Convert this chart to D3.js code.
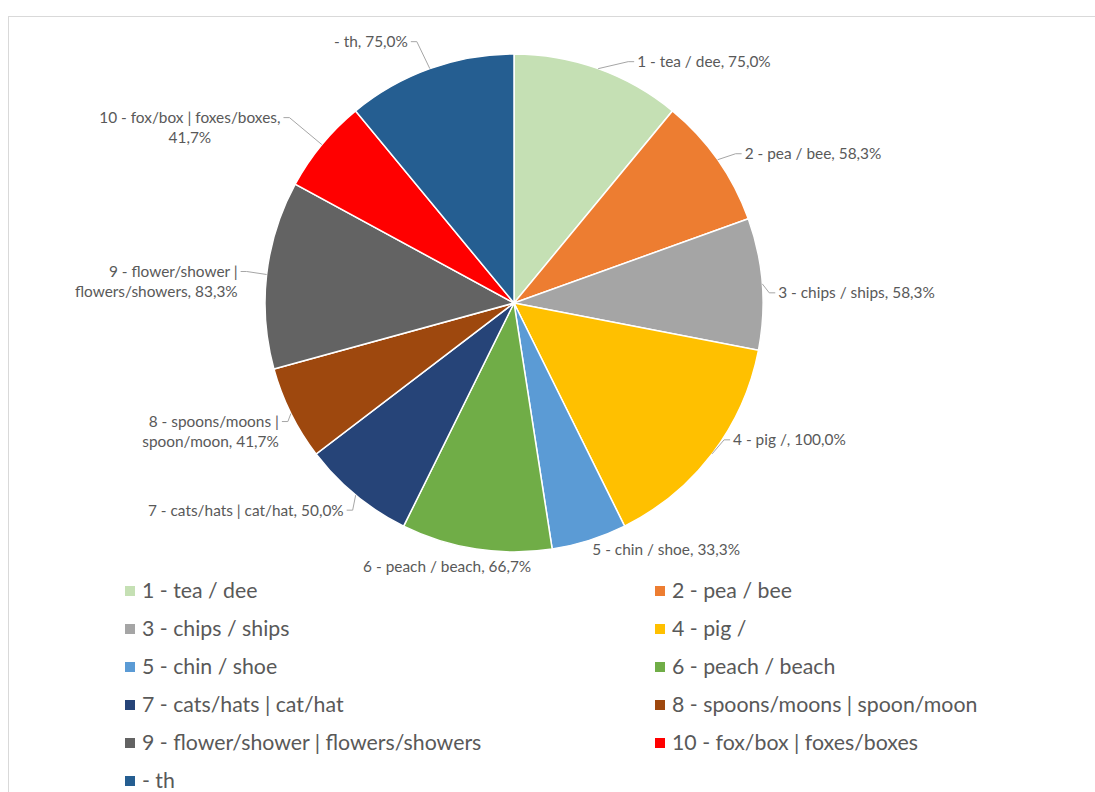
<!DOCTYPE html>
<html>
<head>
<meta charset="utf-8">
<script src="https://cdn.jsdelivr.net/npm/d3@7"></script>
<style>
  body { margin: 0; background: #fff; }
  svg text { font-family: Lato, "Liberation Sans", sans-serif; fill: #595959; }
</style>
</head>
<body>
<svg id="chart" width="1095" height="792"></svg>
<script>
// data
var categories = ["1 - tea / dee", "2 - pea / bee", "3 - chips / ships", "4 - pig /",
    "5 - chin / shoe", "6 - peach / beach", "7 - cats/hats | cat/hat",
    "8 - spoons/moons | spoon/moon", "9 - flower/shower | flowers/showers",
    "10 - fox/box | foxes/boxes", "- th"];
var values = [75.0, 58.3, 58.3, 100.0, 33.3, 66.7, 50.0, 41.7, 83.3, 41.7, 75.0];
var colors = ["#C5E0B4", "#ED7D31", "#A5A5A5", "#FFC000", "#5B9BD5", "#70AD47",
    "#264478", "#9E480E", "#636363", "#FF0000", "#255E91"];

// label layout: offset of label from the slice edge, anchor, line breaks, leader on/off
var labelLayout = [
    {dx: 39, dy: -7, anchor: "start", lines: 1, leader: true},
    {dx: 27, dy: -6, anchor: "start", lines: 1, leader: true},
    {dx: 16, dy: 9, anchor: "start", lines: 1, leader: true},
    {dx: 21, dy: -14, anchor: "start", lines: 1, leader: true},
    {dx: 3, dy: 9, anchor: "start", lines: 1, leader: false},
    {dx: -29, dy: 18, anchor: "middle", lines: 1, leader: false},
    {dx: -12, dy: 15, anchor: "end", lines: 1, leader: true},
    {dx: -12, dy: 18, anchor: "end", lines: 2, split: "| ", leader: true},
    {dx: -29, dy: 7, anchor: "end", lines: 2, split: "| ", leader: true},
    {dx: -132, dy: -17, anchor: "middle", lines: 2, split: ", ", leader: true},
    {dx: -22, dy: -27, anchor: "end", lines: 1, leader: true}
];

var fmt = function(v) { return v.toFixed(1).replace(".", ",") + "%"; };

var svg = d3.select("#chart");

// chart area border
svg.append("rect")
    .attr("x", 8.5).attr("y", 16.5)
    .attr("width", 1200).attr("height", 900)
    .attr("fill", "none")
    .attr("stroke", "#d9d9d9")
    .attr("stroke-width", 1);

var cx = 514, cy = 303, radius = 249;

var pie = d3.pie().sort(null).value(function(d) { return d; });
var arcs = pie(values);
var arc = d3.arc().innerRadius(0).outerRadius(radius);

var g = svg.append("g").attr("transform", "translate(" + cx + "," + cy + ")");

g.selectAll("path.slice")
    .data(arcs)
    .enter()
    .append("path")
    .attr("class", "slice")
    .attr("d", arc)
    .attr("fill", function(d, i) { return colors[i]; })
    .attr("stroke", "#fff")
    .attr("stroke-width", 1.5);

// labels
var lineH = 20;
arcs.forEach(function(d, i) {
    var mid = (d.startAngle + d.endAngle) / 2;
    var ex = radius * Math.sin(mid), ey = -radius * Math.cos(mid);
    var lay = labelLayout[i];
    var tx = ex + lay.dx, ty = ey + lay.dy;
    var full = categories[i] + ", " + fmt(values[i]);
    var lines = [full];
    if (lay.lines === 2) {
        var k = full.indexOf(lay.split);
        lines = [full.slice(0, k + lay.split.length - 1).trim(), full.slice(k + lay.split.length)];
    }
    var t = g.append("text")
        .attr("text-anchor", lay.anchor)
        .style("font-size", "15.4px");
    lines.forEach(function(s, j) {
        t.append("tspan")
            .attr("x", tx)
            .attr("y", ty + j * lineH - (lines.length - 1) * lineH / 2)
            .attr("dy", "0.35em")
            .text(s);
    });
    if (lay.leader) {
        var ly = ty - (lines.length - 1) * lineH / 2;
        var first = t.select("tspan").node();
        var w = first.getComputedTextLength();
        var endX;
        if (lay.anchor === "start") endX = tx - 3;
        else if (lay.anchor === "end") endX = tx + 3;
        else endX = tx + w / 2 + 3;
        var stubX = endX + (lay.anchor === "start" ? -6 : 6);
        g.append("path")
            .attr("d", d3.line()([[ex, ey], [stubX, ly], [endX, ly]]))
            .attr("fill", "none")
            .attr("stroke", "#a6a6a6")
            .attr("stroke-width", 1);
    }
});

// legend
var legendX = [125, 655];
var legendY0 = 591, legendStep = 38;
var legend = svg.selectAll("g.legend")
    .data(categories)
    .enter()
    .append("g")
    .attr("class", "legend")
    .attr("transform", function(d, i) {
        return "translate(" + legendX[i % 2] + "," + (legendY0 + Math.floor(i / 2) * legendStep) + ")";
    });
legend.append("rect")
    .attr("x", 0).attr("y", -5)
    .attr("width", 10).attr("height", 10)
    .attr("fill", function(d, i) { return colors[i]; });
legend.append("text")
    .attr("x", 17)
    .attr("dy", "0.35em")
    .style("font-size", "21.3px")
    .text(function(d) { return d; });
</script>
</body>
</html>
